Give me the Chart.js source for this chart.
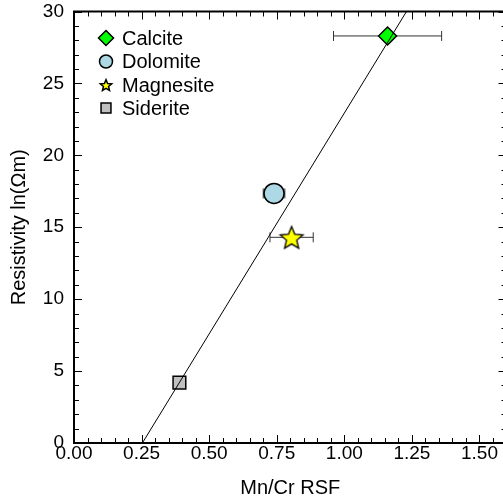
<!DOCTYPE html>
<html><head><meta charset="utf-8">
<script src="https://cdn.jsdelivr.net/npm/chart.js@4"></script>
<style>html,body{margin:0;padding:0;background:#fff;overflow:hidden;width:503px;height:500px}canvas{display:block;margin-top:-2px}</style>
</head><body>
<canvas id="c" width="520" height="502"></canvas>
<script>
// ---- data ----
const categories = ['Calcite', 'Dolomite', 'Magnesite', 'Siderite'];
const xVals = [1.16, 0.74, 0.805, 0.39];
const yVals = [28.3, 17.35, 14.3, 4.2];
const xErr = [0.20, 0.04, 0.08, 0];
const fitX = [0.253, 1.23];
const fitY = [0, 30];
const xTickValues = [0, 0.25, 0.5, 0.75, 1.0, 1.25, 1.5];
const xTickLabels = ['0.00', '0.25', '0.50', '0.75', '1.00', '1.25', '1.50'];
const yTickValues = [0, 5, 10, 15, 20, 25, 30];
const yTickLabels = ['0', '5', '10', '15', '20', '25', '30'];

// ---- styles ----
const FONT = '"Liberation Sans", Arial, Helvetica, sans-serif';
Chart.defaults.font.family = FONT;
Chart.defaults.color = '#000';
const fills = ['#00ff00', '#add8e6', '#ffff00', '#c0c0c0'];
const styles = ['rectRot', 'circle', 'star', 'rect'];
const plotRadius = [9, 10, 12, 9];
const legendRadius = [7.5, 6.5, 6, 7];

function starPath(ctx, cx, cy, R, r) {
  ctx.beginPath();
  for (let k = 0; k < 10; k++) {
    const a = -Math.PI / 2 + k * Math.PI / 5;
    const rr = k % 2 === 0 ? R : r;
    const px = cx + rr * Math.cos(a), py = cy + rr * Math.sin(a);
    if (k === 0) ctx.moveTo(px, py); else ctx.lineTo(px, py);
  }
  ctx.closePath();
}
function starImage(R, fill) {
  const s = Math.ceil(2 * R + 4);
  const cv = document.createElement('canvas');
  cv.width = s; cv.height = s;
  const c = cv.getContext('2d');
  starPath(c, s / 2, s / 2 + R * 0.1, R, R * 0.45);
  c.fillStyle = fill; c.fill();
  c.lineWidth = 1.3; c.strokeStyle = '#000'; c.lineJoin = 'miter'; c.stroke();
  return cv;
}

function drawMarker(ctx, style, x, y, r, fill) {
  ctx.save();
  ctx.fillStyle = fill; ctx.strokeStyle = '#000'; ctx.lineWidth = 1.5;
  ctx.beginPath();
  if (style === 'rectRot') {
    ctx.moveTo(x, y - r); ctx.lineTo(x + r, y); ctx.lineTo(x, y + r); ctx.lineTo(x - r, y); ctx.closePath();
  } else if (style === 'circle') {
    ctx.arc(x, y, r, 0, Math.PI * 2);
  } else if (style === 'rect') {
    const h = r * Math.SQRT1_2; ctx.rect(x - h, y - h, 2 * h, 2 * h);
  } else if (style === 'star') {
    starPath(ctx, x, y + r * 0.1, r, r * 0.45);
  }
  ctx.fill(); ctx.stroke();
  ctx.restore();
}

const datasets = [{
  label: 'fit',
  data: fitX.map((x, i) => ({x, y: fitY[i]})),
  showLine: true, pointRadius: 0, borderColor: '#000', borderWidth: 1, order: 0, fill: false
}];
categories.forEach((name, i) => {
  datasets.push({
    label: name,
    data: [{x: xVals[i], y: yVals[i]}],
    pointStyle: styles[i] === 'star' ? starImage(plotRadius[i], fills[i]) : styles[i],
    pointRadius: plotRadius[i],
    backgroundColor: fills[i],
    borderColor: '#000',
    pointBorderWidth: 1.5,
    order: 1
  });
});

const errorBars = {
  id: 'errorBars',
  beforeDatasetsDraw(chart) {
    const {ctx, scales: {x, y}} = chart;
    ctx.save();
    ctx.strokeStyle = '#333'; ctx.lineWidth = 1;
    xVals.forEach((v, i) => {
      if (!xErr[i]) return;
      const x1 = x.getPixelForValue(v - xErr[i]), x2 = x.getPixelForValue(v + xErr[i]);
      const py = y.getPixelForValue(yVals[i]);
      ctx.beginPath();
      ctx.moveTo(x1, py); ctx.lineTo(x2, py);
      ctx.moveTo(x1, py - 5); ctx.lineTo(x1, py + 5);
      ctx.moveTo(x2, py - 5); ctx.lineTo(x2, py + 5);
      ctx.stroke();
    });
    ctx.restore();
  }
};

const frame = {
  id: 'frame',
  afterDraw(chart) {
    const {ctx, chartArea: a, scales: {x, y}} = chart;
    ctx.save();
    ctx.strokeStyle = '#000';
    ctx.lineWidth = 1;
    ctx.beginPath();
    for (let k = 0; k <= 32; k++) {
      const v = k * 0.05;
      const px = Math.round(x.getPixelForValue(v)) + 0.5;
      const len = k % 5 === 0 ? 8 : 5;
      ctx.moveTo(px, a.bottom); ctx.lineTo(px, a.bottom - len);
      ctx.moveTo(px, a.top); ctx.lineTo(px, a.top + len);
    }
    for (let k = 0; k <= 30; k++) {
      const py = Math.round(y.getPixelForValue(k)) + 0.5;
      const len = k % 5 === 0 ? 8 : 5;
      ctx.moveTo(a.left, py); ctx.lineTo(a.left + len, py);
      ctx.moveTo(a.right, py); ctx.lineTo(a.right - len, py);
    }
    ctx.stroke();
    ctx.lineWidth = 2;
    ctx.strokeRect(a.left, a.top, a.right - a.left, a.bottom - a.top);
    // legend
    ctx.font = '20px ' + FONT;
    ctx.textBaseline = 'middle';
    ctx.textAlign = 'left';
    ctx.fillStyle = '#000';
    const rowY = [40, 63.5, 87, 110];
    categories.forEach((name, i) => {
      drawMarker(ctx, styles[i], 106, rowY[i], legendRadius[i], fills[i]);
      ctx.fillStyle = '#000';
      ctx.fillText(name, 122, rowY[i] + 1);
    });
    ctx.restore();
  }
};

new Chart(document.getElementById('c'), {
  type: 'scatter',
  data: {datasets},
  options: {
    responsive: false, animation: false,
    layout: {padding: {top: 11, right: 13, left: 0, bottom: 0}},
    plugins: {legend: {display: false}, tooltip: {enabled: false}},
    scales: {
      x: {
        type: 'linear', min: 0, max: 1.6,
        grid: {display: false, drawTicks: false, tickLength: 0}, border: {display: false},
        afterBuildTicks: s => { s.ticks = xTickValues.map(v => ({value: v})); },
        ticks: {
          autoSkip: false, maxRotation: 0, padding: -1, color: '#000',
          font: {size: 19},
          callback: (v) => { const i = xTickValues.findIndex(t => Math.abs(t - v) < 1e-9); return i >= 0 ? xTickLabels[i] : ''; }
        },
        title: {display: true, text: 'Mn/Cr RSF', color: '#000', font: {size: 20}, padding: {top: 0, bottom: 0}},
        afterFit: s => { s.height = 57; s.paddingLeft = 0; s.paddingRight = 0; s.paddingTop = 0; s.paddingBottom = 0; }
      },
      y: {
        type: 'linear', min: 0, max: 30,
        grid: {display: false, drawTicks: false, tickLength: 0}, border: {display: false},
        afterBuildTicks: s => { s.ticks = yTickValues.map(v => ({value: v})); },
        ticks: {
          autoSkip: false, padding: 10, color: '#000',
          font: {size: 19},
          callback: (v) => { const i = yTickValues.indexOf(v); return i >= 0 ? yTickLabels[i] : ''; }
        },
        title: {display: true, text: 'Resistivity ln(Ωm)', color: '#000', font: {size: 20}, padding: {top: 7, bottom: 0}},
        afterFit: s => { s.width = 74; s.paddingTop = 0; s.paddingBottom = 0; s.paddingLeft = 0; s.paddingRight = 0; }
      }
    }
  },
  plugins: [errorBars, frame]
});
</script>
</body></html>
